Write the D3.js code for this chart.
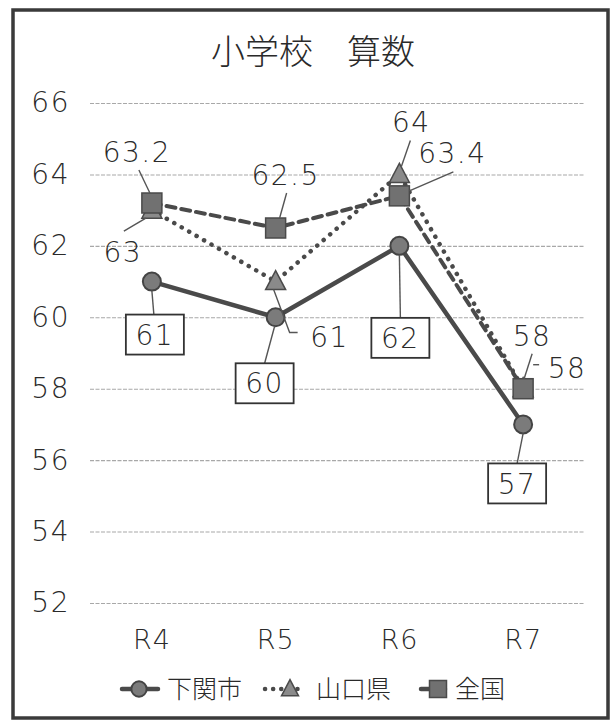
<!DOCTYPE html>
<html>
<head>
<meta charset="utf-8">
<script src="https://cdn.jsdelivr.net/npm/d3@7"></script>
<style>
  body { margin: 0; background: #fff; }
  svg text { fill: #2a2a2a; }
</style>
</head>
<body>
<div id="chart"></div>
<script>
// values
const categories = ['R4', 'R5', 'R6', 'R7'];
const shimonoseki = [61, 60, 62, 57];
const yamaguchi = [63, 61, 64, 58];
const zenkoku = [63.2, 62.5, 63.4, 58];
const yTicks = [52, 54, 56, 58, 60, 62, 64, 66];
const seriesNames = ['下関市', '山口県', '全国'];
const title = '小学校　算数';

const width = 611, height = 721;
const numFont = '"DejaVu Sans", sans-serif';
const jpFont = '"Noto Sans CJK JP", sans-serif';

// label placement: text centre offset from the point, leader as relative polyline
const shimoLayout = [
  { dx: 3, dy: 53, lead: [[0, 9], [2, 33]] },
  { dx: -11, dy: 66, lead: [[-1, 9], [-11, 46]] },
  { dx: 1, dy: 92, lead: [[0, 9], [1, 72]] },
  { dx: -6, dy: 59, lead: [[0, 9], [-6, 39]] }
];
const yamaLayout = [
  { dx: -29, dy: 42, lead: [[-6, 8], [-28, 21]] },
  { dx: 54, dy: 55, lead: [[-2, 8], [14, 51], [22, 51]] },
  { dx: 12, dy: -53, lead: [[2, -8], [11, -34]] },
  { dx: 44, dy: -21, lead: [[10, -24], [16, -24]] }
];
const zenLayout = [
  { dx: -15, dy: -51, lead: [[-2, -10], [-13, -33]] },
  { dx: 10, dy: -53, lead: [[4, -10], [11, -35]] },
  { dx: 53, dy: -43, lead: [[10, -5], [54, -24]] },
  { dx: 9, dy: -53, lead: [[1, -10], [9, -35]] }
];

const svg = d3.select('#chart')
  .append('svg')
    .attr('width', width)
    .attr('height', height);

svg.append('rect')
  .attr('width', width).attr('height', height)
  .attr('fill', '#fff');

// outer frame
svg.append('rect')
  .attr('x', 13).attr('y', 10)
  .attr('width', 595).attr('height', 708)
  .attr('fill', 'none')
  .attr('stroke', '#3a3a3a')
  .attr('stroke-width', 3.5);

svg.append('text')
  .attr('x', 313).attr('y', 52)
  .attr('dy', '0.36em')
  .attr('text-anchor', 'middle')
  .style('font-family', jpFont)
  .style('font-weight', 300)
  .style('font-size', '34px')
  .text(title);

const x = d3.scaleBand()
  .domain(categories)
  .range([90, 585])
  .padding(0);
const cx = d => x(d) + x.bandwidth() / 2;

const y = d3.scaleLinear()
  .domain([52, 66])
  .range([603, 103]);

// y axis with grid lines
const yAxis = svg.append('g')
  .attr('transform', 'translate(90,0)')
  .call(d3.axisLeft(y).tickValues(yTicks).tickSize(-495).tickPadding(20));
yAxis.select('.domain').remove();
yAxis.selectAll('line')
  .attr('stroke', '#a8a8a8')
  .attr('stroke-width', 1.1)
  .attr('stroke-dasharray', '4,1.5');
yAxis.selectAll('text')
  .style('font-family', numFont)
  .style('font-weight', 200)
  .style('font-size', '28px')
  .style('letter-spacing', '1.5px')
  .attr('fill', '#2a2a2a');

// x axis labels
const xAxis = svg.append('g')
  .attr('transform', 'translate(0,603)')
  .call(d3.axisBottom(x).tickSize(0));
xAxis.select('.domain').remove();
xAxis.selectAll('text')
  .attr('y', 36)
  .attr('dy', '0.36em')
  .style('font-family', numFont)
  .style('font-weight', 200)
  .style('font-size', '27px')
  .style('letter-spacing', '1px')
  .attr('fill', '#2a2a2a');

const line = d3.line().x((d, i) => cx(categories[i])).y(d => y(d));

const series = [
  { name: seriesNames[1], values: yamaguchi, layout: yamaLayout, shape: 'triangle', dash: '0.1,8.5', width: 4.5, boxed: false },
  { name: seriesNames[2], values: zenkoku, layout: zenLayout, shape: 'square', dash: '9,6', width: 4, boxed: false },
  { name: seriesNames[0], values: shimonoseki, layout: shimoLayout, shape: 'circle', dash: null, width: 4.5, boxed: true }
];

function drawMarker(g, shape, px, py, scale) {
  const s = scale || 1;
  if (shape === 'circle') {
    g.append('circle')
      .attr('cx', px).attr('cy', py).attr('r', 9 * s)
      .attr('fill', '#7b7b7b').attr('stroke', '#444').attr('stroke-width', 2);
  } else if (shape === 'square') {
    g.append('rect')
      .attr('x', px - 10 * s).attr('y', py - 10 * s)
      .attr('width', 20 * s).attr('height', 20 * s)
      .attr('fill', '#717171').attr('stroke', '#4a4a4a').attr('stroke-width', 1.5);
  } else {
    g.append('path')
      .attr('d', `M${px},${py - 11 * s}L${px + 10 * s},${py + 8 * s}L${px - 10 * s},${py + 8 * s}Z`)
      .attr('fill', '#8a8a8a').attr('stroke', '#4a4a4a').attr('stroke-width', 1.5);
  }
}

// lines first
series.forEach(s => {
  svg.append('path')
    .datum(s.values)
    .attr('d', line)
    .attr('fill', 'none')
    .attr('stroke', '#4a4a4a')
    .attr('stroke-width', s.width)
    .attr('stroke-linecap', 'round')
    .attr('stroke-linejoin', 'round')
    .attr('stroke-dasharray', s.dash);
});

// markers
series.forEach(s => {
  const g = svg.append('g');
  s.values.forEach((v, i) => drawMarker(g, s.shape, cx(categories[i]), y(v)));
});

// data labels with leader lines
series.forEach(s => {
  const g = svg.append('g');
  s.values.forEach((v, i) => {
    const px = cx(categories[i]), py = y(v);
    const L = s.layout[i];
    g.append('path')
      .attr('d', d3.line()(L.lead.map(p => [px + p[0], py + p[1]])))
      .attr('fill', 'none')
      .attr('stroke', '#555')
      .attr('stroke-width', 1.4);
    if (s.boxed) {
      g.append('rect')
        .attr('x', px + L.dx - 29).attr('y', py + L.dy - 20)
        .attr('width', 58).attr('height', 40)
        .attr('fill', '#fff')
        .attr('stroke', '#333')
        .attr('stroke-width', 1.8);
    }
    g.append('text')
      .attr('x', px + L.dx).attr('y', py + L.dy)
      .attr('dy', '0.36em')
      .attr('text-anchor', 'middle')
      .style('font-family', numFont)
      .style('font-weight', 200)
      .style('font-size', '28px')
      .style('letter-spacing', '1.5px')
      .text(v);
  });
});

// legend
const legend = svg.append('g');
const legendItems = [
  { name: seriesNames[0], shape: 'circle', dash: null, x1: 122, x2: 158, mx: 139, tx: 167 },
  { name: seriesNames[1], shape: 'triangle', dash: '0.1,8', x1: 265, x2: 304, mx: 290, tx: 316 },
  { name: seriesNames[2], shape: 'square', dash: '9,6', x1: 421, x2: 451, mx: 438, tx: 455 }
];
legendItems.forEach(it => {
  legend.append('line')
    .attr('x1', it.x1).attr('x2', it.x2)
    .attr('y1', 689).attr('y2', 689)
    .attr('stroke', '#4a4a4a')
    .attr('stroke-width', 4.5)
    .attr('stroke-linecap', 'round')
    .attr('stroke-dasharray', it.dash);
  drawMarker(legend, it.shape, it.mx, 689, 0.85);
  legend.append('text')
    .attr('x', it.tx).attr('y', 689)
    .attr('dy', '0.36em')
    .style('font-family', jpFont)
    .style('font-weight', 300)
    .style('font-size', '25px')
    .text(it.name);
});
</script>
</body>
</html>
